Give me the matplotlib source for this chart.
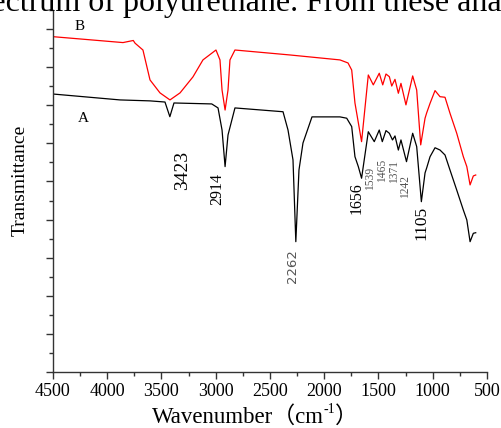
import numpy as np
import matplotlib
matplotlib.use('Agg')
import matplotlib.pyplot as plt
from matplotlib.ticker import MultipleLocator

# =============================================================================
# Data
# =============================================================================

# Curve A (black)
wn_A = [4500, 3882, 3606, 3468, 3423, 3385, 3037, 2979, 2942, 2914, 2887, 2823,
        2380, 2334, 2288, 2262, 2233, 2196, 2113, 1855, 1793, 1747, 1717, 1686,
        1656, 1594, 1539, 1493, 1465, 1431, 1400, 1371, 1348, 1317, 1293, 1242,
        1185, 1148, 1105, 1071, 1056, 1025, 979, 933, 887, 841, 779, 718, 686,
        656, 626, 604]
T_A = [14.59, 14.28, 14.23, 14.17, 13.40, 14.12, 14.07, 13.86, 12.70, 10.78, 12.44, 13.86,
       13.66, 12.70, 11.13, 6.84, 10.60, 12.02, 13.39, 13.39, 13.32, 12.88, 11.30, 10.78,
       10.17, 12.61, 12.09, 12.70, 12.09, 12.67, 12.53, 12.18, 12.39, 11.65, 12.18, 11.04,
       12.53, 11.83, 8.94, 10.45, 10.71, 11.30, 11.77, 11.65, 11.39, 10.60, 9.55, 8.50, 7.98,
       6.84, 7.28, 7.31]

# Curve B (red)
wn_B = [4500, 3855, 3760, 3744, 3671, 3606, 3514, 3422, 3329, 3210, 3118, 2998, 2961,
        2942, 2914, 2887, 2869, 2823, 2316, 1855, 1781, 1747, 1717, 1656, 1594, 1548,
        1493, 1461, 1431, 1400, 1378, 1348, 1317, 1293, 1247, 1185, 1148, 1111, 1071,
        1056, 1025, 979, 933, 887, 841, 779, 718, 686, 656, 626, 604]
T_B = [17.60, 17.29, 17.40, 17.26, 16.90, 15.33, 14.65, 14.28, 14.65, 15.49, 16.38, 16.90, 16.38,
       14.80, 13.75, 14.80, 16.38, 16.90, 16.64, 16.38, 16.22, 15.85, 14.12, 12.09, 15.59, 15.07,
       15.68, 15.07, 15.64, 15.50, 15.01, 15.36, 14.63, 15.15, 14.02, 15.54, 14.80, 11.92, 13.32,
       13.60, 14.10, 14.77, 14.45, 14.42, 13.58, 12.53, 11.30, 10.78, 9.82, 10.29, 10.34]

# Peak annotations
peak_text = ['3423', '2914', '2262', '1656', '1539', '1465', '1371', '1242', '1105']
peak_x    = [3302, 2989, 2297, 1701, 1578, 1471, 1357, 1256, 1102]
peak_y    = [10.6, 9.61, 5.56, 9.13, 10.18, 10.6, 10.5, 9.73, 7.82]
peak_fs   = [14, 11.5, 9.5, 11.5, 8.3, 8.3, 8.3, 8.3, 12.5]
peak_col  = ['k', 'k', '#555555', 'k', '#555555', '#555555', '#555555', '#555555', 'k']

xticks = [4500, 4000, 3500, 3000, 2500, 2000, 1500, 1000, 500]

serif = ['Liberation Serif', 'Noto Sans CJK SC']

# =============================================================================
# Plot
# =============================================================================

W, H = 502, 428
fig = plt.figure(figsize=(W/100, H/100), dpi=100)
ax = fig.add_axes([53/W, 1-372/H, 434/W, 362/H])

ax.plot(wn_A, T_A, '-', color='k', lw=0.9)
ax.plot(wn_B, T_B, '-', color='#ff0000', lw=0.9)

ax.set_xlim(4500, 500)
ax.set_ylim(0, 19)
ax.set_xticks(xticks)
ax.set_xticklabels([str(t) for t in xticks], family=serif, fontsize=13)
ax.xaxis.set_minor_locator(MultipleLocator(250))
ax.yaxis.set_major_locator(MultipleLocator(2))
ax.yaxis.set_minor_locator(MultipleLocator(1))
ax.set_yticklabels([])
ax.tick_params(which='major', direction='out', length=5, width=1, color='#333333', pad=3)
ax.tick_params(which='minor', direction='out', length=3, width=1, color='#333333')
for s in ['top', 'right']:
    ax.spines[s].set_visible(False)
for s in ['left', 'bottom']:
    ax.spines[s].set_color('#333333')
    ax.spines[s].set_linewidth(1)

ax.text(4251, 18.11, 'B', family=serif, fontsize=11, ha='center', va='center')
ax.text(4223, 13.33, 'A', family=serif, fontsize=11, ha='center', va='center')

for t, x, y, fs, c in zip(peak_text, peak_x, peak_y, peak_fs, peak_col):
    fam = ['DejaVu Sans'] if t == '2262' else serif
    ax.text(x, y, t, rotation=90, fontsize=fs, color=c, family=fam,
            ha='center', va='center')

# y label
fig.text(20/W, 1-180/H, 'Transmittance', rotation=90, family=serif, fontsize=14,
         ha='center', va='center')

# cropped text line at the top of the picture
fig.text(-37/W, 1-11/H, 'spectrum of polyurethane. From these analyses',
         family=serif, fontsize=23, va='baseline', ha='left')

# x label built from pieces (superscript)
base_y = 1-423/H
t1 = fig.text(0, base_y, 'Wavenumber（cm', family=serif, fontsize=16.5, va='baseline')
t2 = fig.text(0, base_y + 10/H, '-1', family=serif, fontsize=10, va='baseline')
t3 = fig.text(0, base_y, '）', family=serif, fontsize=16.5, va='baseline')
fig.canvas.draw()
r = fig.canvas.get_renderer()
w1 = t1.get_window_extent(r).width
w2 = t2.get_window_extent(r).width
w3 = t3.get_window_extent(r).width
x0 = 255 - (w1 + w2 + w3)/2
t1.set_x(x0/W)
t2.set_x((x0 + w1)/W)
t3.set_x((x0 + w1 + w2)/W)

fig.savefig('out.png', dpi=100)
